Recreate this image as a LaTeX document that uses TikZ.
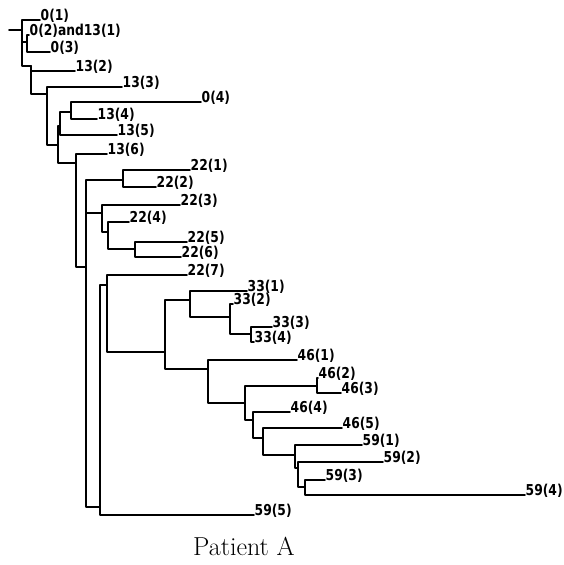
\documentclass[tikz,border=0pt]{standalone}
\usepackage{fontspec}
\newfontfamily\labfont[FakeStretch=0.82]{DejaVu Sans}
\begin{document}
\begin{tikzpicture}[x=1pt,y=-1pt,
  br/.style={line width=1.6pt,line cap=round,line join=round},
  lab/.style={anchor=base west,inner sep=0pt,xshift=0.5pt,font=\labfont\bfseries\fontsize{15}{17}\selectfont},
  ttl/.style={anchor=base,inner sep=0pt,font=\fontsize{26}{30}\selectfont}]
\useasboundingbox (0,0) rectangle (564,565);
% internal nodes
\coordinate (r0) at (9,30);
\coordinate (R) at (22,30);
\coordinate (N1) at (27,42);
\coordinate (N2) at (31,66);
\coordinate (N3) at (47,94);
\coordinate (N4) at (58,145);
\coordinate (N6) at (60,126);
\coordinate (N7) at (71,112);
\coordinate (N5) at (76,163);
\coordinate (P) at (86,267);
\coordinate (Q1) at (123,180);
\coordinate (Q2) at (102,213);
\coordinate (Q3) at (108,232);
\coordinate (Q4) at (135,249);
\coordinate (Q) at (100,507);
\coordinate (S) at (107,285);
\coordinate (T) at (165,352);
\coordinate (U) at (190,300);
\coordinate (V) at (230,317);
\coordinate (W) at (251,334);
\coordinate (X) at (208,369);
\coordinate (Y) at (245,403);
\coordinate (Z) at (317,386);
\coordinate (AA) at (253,420);
\coordinate (BB) at (263,438);
\coordinate (CC) at (295,455);
\coordinate (DD) at (298,468);
\coordinate (EE) at (305,487);
% leaf ends
\coordinate (l01) at (40,20);
\coordinate (l02) at (29,35);
\coordinate (l03) at (50,52);
\coordinate (l132) at (75,71);
\coordinate (l133) at (122,87);
\coordinate (l04) at (201,102);
\coordinate (l134) at (97,119);
\coordinate (l135) at (117,135);
\coordinate (l136) at (107,154);
\coordinate (l221) at (190,170);
\coordinate (l222) at (156,187);
\coordinate (l223) at (180,205);
\coordinate (l224) at (129,222);
\coordinate (l225) at (187,242);
\coordinate (l226) at (181,257);
\coordinate (l227) at (187,275);
\coordinate (l331) at (247,291);
\coordinate (l332) at (233,304);
\coordinate (l333) at (272,327);
\coordinate (l334) at (254,342);
\coordinate (l461) at (297,360);
\coordinate (l462) at (318,378);
\coordinate (l463) at (341,393);
\coordinate (l464) at (290,412);
\coordinate (l465) at (342,428);
\coordinate (l591) at (362,445);
\coordinate (l592) at (383,462);
\coordinate (l593) at (325,480);
\coordinate (l594) at (525,495);
\coordinate (l595) at (254,515);
% branches
\draw[br] (r0) -- (R);
\draw[br] (R) |- (l01);
\draw[br] (R) |- (N1);
\draw[br] (R) |- (N2);
\draw[br] (N1) |- (l02);
\draw[br] (N1) |- (l03);
\draw[br] (N2) |- (l132);
\draw[br] (N2) |- (N3);
\draw[br] (N3) |- (l133);
\draw[br] (N3) |- (N4);
\draw[br] (N4) |- (N6);
\draw[br] (N4) |- (N5);
\draw[br] (N6) |- (N7);
\draw[br] (N6) |- (l135);
\draw[br] (N7) |- (l04);
\draw[br] (N7) |- (l134);
\draw[br] (N5) |- (l136);
\draw[br] (N5) |- (P);
\draw[br] (P) |- (Q1);
\draw[br] (P) |- (Q2);
\draw[br] (P) |- (Q);
\draw[br] (Q1) |- (l221);
\draw[br] (Q1) |- (l222);
\draw[br] (Q2) |- (l223);
\draw[br] (Q2) |- (Q3);
\draw[br] (Q3) |- (l224);
\draw[br] (Q3) |- (Q4);
\draw[br] (Q4) |- (l225);
\draw[br] (Q4) |- (l226);
\draw[br] (Q) |- (S);
\draw[br] (Q) |- (l595);
\draw[br] (S) |- (l227);
\draw[br] (S) |- (T);
\draw[br] (T) |- (U);
\draw[br] (T) |- (X);
\draw[br] (U) |- (l331);
\draw[br] (U) |- (V);
\draw[br] (V) |- (l332);
\draw[br] (V) |- (W);
\draw[br] (W) |- (l333);
\draw[br] (W) |- (l334);
\draw[br] (X) |- (l461);
\draw[br] (X) |- (Y);
\draw[br] (Y) |- (Z);
\draw[br] (Y) |- (AA);
\draw[br] (Z) |- (l462);
\draw[br] (Z) |- (l463);
\draw[br] (AA) |- (l464);
\draw[br] (AA) |- (BB);
\draw[br] (BB) |- (l465);
\draw[br] (BB) |- (CC);
\draw[br] (CC) |- (l591);
\draw[br] (CC) |- (DD);
\draw[br] (DD) |- (l592);
\draw[br] (DD) |- (EE);
\draw[br] (EE) |- (l593);
\draw[br] (EE) |- (l594);
% labels
\node[lab] (t01) at (l01) {0(1)};
\node[lab] (t02) at (l02) {0(2)and13(1)};
\node[lab] (t03) at (l03) {0(3)};
\node[lab] (t132) at (l132) {13(2)};
\node[lab] (t133) at (l133) {13(3)};
\node[lab] (t04) at (l04) {0(4)};
\node[lab] (t134) at (l134) {13(4)};
\node[lab] (t135) at (l135) {13(5)};
\node[lab] (t136) at (l136) {13(6)};
\node[lab] (t221) at (l221) {22(1)};
\node[lab] (t222) at (l222) {22(2)};
\node[lab] (t223) at (l223) {22(3)};
\node[lab] (t224) at (l224) {22(4)};
\node[lab] (t225) at (l225) {22(5)};
\node[lab] (t226) at (l226) {22(6)};
\node[lab] (t227) at (l227) {22(7)};
\node[lab] (t331) at (l331) {33(1)};
\node[lab] (t332) at (l332) {33(2)};
\node[lab] (t333) at (l333) {33(3)};
\node[lab] (t334) at (l334) {33(4)};
\node[lab] (t461) at (l461) {46(1)};
\node[lab] (t462) at (l462) {46(2)};
\node[lab] (t463) at (l463) {46(3)};
\node[lab] (t464) at (l464) {46(4)};
\node[lab] (t465) at (l465) {46(5)};
\node[lab] (t591) at (l591) {59(1)};
\node[lab] (t592) at (l592) {59(2)};
\node[lab] (t593) at (l593) {59(3)};
\node[lab] (t594) at (l594) {59(4)};
\node[lab] (t595) at (l595) {59(5)};
\node[ttl] (title) at (244,555) {Patient A};
\end{tikzpicture}
\end{document}
